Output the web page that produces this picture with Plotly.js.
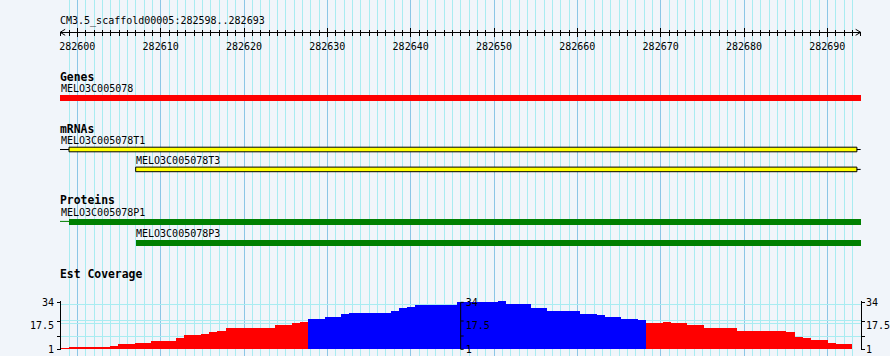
<!DOCTYPE html>
<html>
<head>
<meta charset="utf-8">
<script src="https://cdn.plot.ly/plotly-3.0.1.min.js"></script>
<style>html,body{margin:0;padding:0;background:#f1f5fa;}#chart{width:890px;height:356px;}</style>
</head>
<body>
<div id="chart"></div>
<script>
// ---------------- data ----------------
const rulerTitle = 'CM3.5_scaffold00005:282598..282693';
const viewStart = 282598;
const viewEnd = 282694;
const trackTitles = ['Genes', 'mRNAs', 'Proteins', 'Est Coverage'];

const geneNames = ['MELO3C005078'];
const geneStarts = [282598];
const geneEnds = [282694];

const mrnaNames = ['MELO3C005078T1', 'MELO3C005078T3'];
const mrnaStarts = [282598, 282607];
const mrnaExonStarts = [282599, 282607];
const mrnaEnds = [282694, 282694];

const proteinNames = ['MELO3C005078P1', 'MELO3C005078P3'];
const proteinStarts = [282598, 282607];
const proteinBodyStarts = [282599, 282607];
const proteinEnds = [282694, 282694];

const covStart = 282598;
const covEnd = 282693;
const covValues = [
  1.7, 2.8, 2.8, 2.8, 2.8, 2.8, 3.5, 4.9, 4.9, 5.6,
  5.6, 7.0, 7.0, 7.0, 9.1, 11.2, 11.2, 12.0, 13.4, 14.1,
  16.2, 16.2, 16.2, 16.2, 16.2, 16.2, 18.3, 18.3, 19.7, 20.4,
  22.5, 22.5, 23.8, 23.8, 25.6, 26.5, 26.5, 26.5, 26.5, 26.5,
  27.9, 29.8, 30.7, 32.2, 32.2, 32.2, 32.2, 32.2, 34.3, 34.3,
  34.3, 34.3, 34.3, 35.0, 32.5, 32.5, 32.5, 30.2, 30.2, 28.0,
  28.0, 28.0, 28.0, 26.0, 26.0, 24.8, 23.9, 23.9, 22.5, 22.5,
  21.6, 19.7, 19.7, 20.4, 19.7, 19.7, 18.3, 18.3, 16.2, 16.2,
  16.2, 16.2, 14.1, 14.1, 14.1, 14.1, 14.1, 14.1, 13.4, 9.8,
  9.1, 7.7, 7.7, 5.6, 4.9, 4.9
];
const covPivot = 21;
const covTickLabels = ['1', '17.5', '34'];
const covTickVals = [1, 17.5, 34];
const covMinorTicks = [1, 10.34, 20.88, 34];
const covGridVals = [0.5, 10.3, 19.3, 21.1, 32.6, 34.4];

// ---------------- layout constants (pixels) ----------------
const W = 890, H = 356;
const plotL = 60, plotR = 861, plotMid = 460.67;
const pxPerBp = 800 / 96;
const xr0 = 282600 - (77.33 - plotL) / pxPerBp;
const xr1 = 282600 + (plotR - 77.33) / pxPerBp;
const rulerY = 32.3;
const covBottom = 350.0, covTop = 300.9;

const BG = '#f1f5fa';
const GRID_LIGHT = '#a9ecf1';
const GRID_DARK = '#8cc6e6';
const MONO = 'DejaVu Sans Mono, monospace';

const traces = [];
const annotations = [];
const shapes = [];

function label(text, x, y, xref, bold, size) {
  annotations.push({
    text: bold ? '<b>' + text + '</b>' : text,
    x: x, y: y, xref: xref, yref: 'y',
    xanchor: 'left', yanchor: 'middle', showarrow: false,
    borderpad: 0, borderwidth: 0,
    font: {family: MONO, size: size || 10, color: '#000'}
  });
}
function hbar(start, end, yc, h, color, lineColor) {
  traces.push({
    type: 'bar', orientation: 'h', xaxis: 'x', yaxis: 'y',
    y: [yc], x: [end - start], base: [start], width: [h],
    marker: {color: color, line: {color: lineColor || color, width: lineColor ? 1 : 0}},
    hoverinfo: 'skip', showlegend: false
  });
}
function hline(x0, x1, yc, color) {
  traces.push({
    type: 'scatter', mode: 'lines', xaxis: 'x', yaxis: 'y',
    x: [x0, x1], y: [yc, yc], line: {color: color, width: 1},
    hoverinfo: 'skip', showlegend: false
  });
}

// ruler title
label(rulerTitle, plotL / W, 21, 'paper', false, 10);

// Genes
label(trackTitles[0], plotL / W, 76.5, 'paper', true, 11.4);
geneNames.forEach((n, i) => {
  label(n, Math.max(geneStarts[i], viewStart), 88, 'x', false, 10);
  hbar(geneStarts[i] - 0.2, geneEnds[i], 98, 6, '#ff0000');
});

// mRNAs
label(trackTitles[1], plotL / W, 128.5, 'paper', true, 11.4);
const mrnaRows = [149.5, 169.4];
const mrnaLabelRows = [140.3, 160.3];
mrnaNames.forEach((n, i) => {
  label(n, Math.max(mrnaStarts[i], viewStart), mrnaLabelRows[i], 'x', false, 10);
  if (mrnaExonStarts[i] > mrnaStarts[i]) hline(mrnaStarts[i] - 0.2, mrnaExonStarts[i], mrnaRows[i], '#000');
  hbar(mrnaExonStarts[i], mrnaEnds[i] - 0.45, mrnaRows[i], 4.6, '#ffff00', '#000');
  hline(mrnaEnds[i] - 0.45, mrnaEnds[i], mrnaRows[i], '#000');
});

// Proteins
label(trackTitles[2], plotL / W, 200.3, 'paper', true, 11.4);
const protRows = [221.9, 242.9];
const protLabelRows = [212.5, 233.5];
proteinNames.forEach((n, i) => {
  label(n, Math.max(proteinStarts[i], viewStart), protLabelRows[i], 'x', false, 10);
  if (proteinBodyStarts[i] > proteinStarts[i]) hline(proteinStarts[i] - 0.2, proteinBodyStarts[i], protRows[i] - 0.5, '#008000');
  hbar(proteinBodyStarts[i], proteinEnds[i], protRows[i], 5.7, '#008000');
});

// Est Coverage
label(trackTitles[3], plotL / W, 274.3, 'paper', true, 11.4);
const binW = (covEnd - covStart) / covValues.length;
traces.push({
  type: 'bar', xaxis: 'x', yaxis: 'y3',
  x: covValues.map((v, i) => covStart + (i + 0.5) * binW),
  y: covValues.map(v => v - 1), base: 1, width: binW,
  marker: {color: covValues.map(v => v >= covPivot ? '#0000ff' : '#ff0000'), line: {width: 0}},
  hoverinfo: 'skip', showlegend: false
});
// dummy traces so the extra axes are drawn
['y4', 'y5', 'y6'].forEach(ya => traces.push({
  type: 'scatter', mode: 'markers', xaxis: 'x', yaxis: ya, x: [282600], y: [-50],
  marker: {opacity: 0}, hoverinfo: 'skip', showlegend: false
}));
traces.push({
  type: 'scatter', mode: 'markers', xaxis: 'x2', yaxis: 'y', x: [282600], y: [-50],
  marker: {opacity: 0}, hoverinfo: 'skip', showlegend: false
});

// middle coverage axis drawn above the bars
shapes.push({type: 'line', xref: 'paper', yref: 'y3', x0: plotMid / W, x1: plotMid / W,
  y0: covTickVals[0], y1: covTickVals[2], line: {color: '#000', width: 1}});
covMinorTicks.forEach(v => shapes.push({type: 'line', xref: 'paper', yref: 'y3',
  x0: plotMid / W, x1: (plotMid + 3) / W, y0: v, y1: v, line: {color: '#000', width: 1}}));

const xDom = [plotL / W, plotR / W];
const covDom = [1 - covBottom / H, 1 - covTop / H];
const rulerPos = 1 - rulerY / H;

function covAxis(pos, side, extra) {
  return Object.assign({
    domain: covDom, range: [0.5, 35], anchor: 'free', position: pos, side: side,
    showline: true, linecolor: '#000', linewidth: 1,
    tickmode: 'array', tickvals: covTickVals, ticktext: covTickLabels,
    ticks: '', showgrid: false, zeroline: false,
    minor: {tickmode: 'array', tickvals: covMinorTicks, ticks: 'outside', ticklen: 3, tickcolor: '#000', showgrid: false},
    tickfont: {family: MONO, size: 10, color: '#000'},
    ticklabelstandoff: 4, fixedrange: true
  }, extra || {});
}

// ruler end arrows
shapes.push({type: 'path', xref: 'x', yref: 'y', path: `M ${xr0 + 0.62},${rulerY - 3} L ${xr0 + 0.02},${rulerY} L ${xr0 + 0.62},${rulerY + 3}`, line: {color: '#000', width: 1}});
shapes.push({type: 'path', xref: 'x', yref: 'y', path: `M ${viewEnd - 0.6},${rulerY - 3} L ${viewEnd},${rulerY} L ${viewEnd - 0.6},${rulerY + 3}`, line: {color: '#000', width: 1}});

const layout = {
  width: W, height: H,
  margin: {l: 0, r: 0, t: 0, b: 0, pad: 0},
  paper_bgcolor: BG, plot_bgcolor: BG,
  showlegend: false, hovermode: false, barmode: 'overlay', bargap: 0,
  xaxis: {
    domain: xDom, range: [xr0, xr1], anchor: 'free', position: rulerPos, side: 'bottom',
    showline: true, linecolor: '#000', linewidth: 1, zeroline: false,
    tick0: 282600, dtick: 10, tickformat: 'd',
    ticks: 'outside', ticklen: 3.4, tickcolor: '#000', tickwidth: 1,
    showgrid: true, gridcolor: GRID_DARK, gridwidth: 1,
    minor: {tick0: 282600, dtick: 1, ticks: 'outside', ticklen: 2.4, tickcolor: '#000', showgrid: true, gridcolor: GRID_LIGHT, gridwidth: 1},
    tickfont: {family: MONO, size: 10, color: '#000'},
    ticklabelstandoff: 1, fixedrange: true
  },
  xaxis2: {
    domain: xDom, range: [xr0, xr1], overlaying: 'x', matches: 'x', anchor: 'free', position: rulerPos, side: 'bottom',
    showline: false, zeroline: false, showgrid: false, showticklabels: false,
    tick0: 282600, dtick: 10, ticks: 'inside', ticklen: 4.6, tickcolor: '#000', tickwidth: 1,
    minor: {tick0: 282600, dtick: 1, ticks: 'inside', ticklen: 2.6, tickcolor: '#000', showgrid: false},
    fixedrange: true
  },
  yaxis: {domain: [0, 1], range: [H, 0], visible: false, fixedrange: true},
  yaxis3: covAxis(plotL / W, 'left'),
  yaxis4: covAxis(plotMid / W, 'right', {overlaying: 'y3', matches: 'y3', showline: false,
    minor: {ticks: ''}, ticklabelstandoff: 4}),
  yaxis5: covAxis(plotR / W, 'right', {overlaying: 'y3', matches: 'y3', ticklabelstandoff: 2}),
  yaxis6: {
    domain: covDom, range: [0.5, 35], overlaying: 'y3', matches: 'y3', anchor: 'free', position: plotL / W,
    tickmode: 'array', tickvals: covGridVals, showticklabels: false, ticks: '',
    showgrid: true, gridcolor: GRID_LIGHT, gridwidth: 1, showline: false, zeroline: false, fixedrange: true
  },
  shapes: shapes,
  annotations: annotations
};

Plotly.newPlot('chart', traces, layout, {staticPlot: true, displayModeBar: false});
</script>
</body>
</html>
